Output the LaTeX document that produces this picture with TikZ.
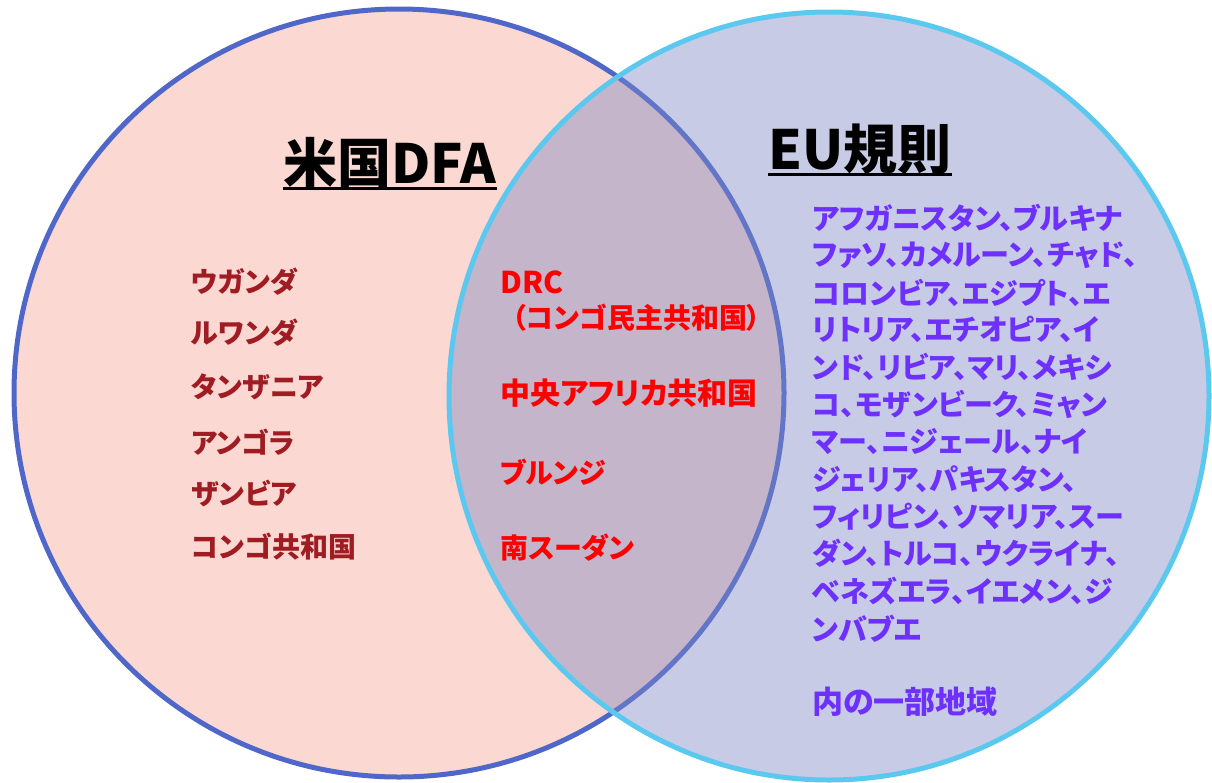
\documentclass[tikz,border=0pt]{standalone}
\usepackage{fontspec}
\setmainfont{Noto Sans CJK JP}[RawFeature=+palt]
\definecolor{usaline}{RGB}{78,103,200}
\definecolor{usafill}{RGB}{251,216,210}
\definecolor{euline}{RGB}{91,200,240}
\definecolor{eufill}{RGB}{128,137,196}
\definecolor{darkred}{RGB}{158,28,34}
\definecolor{brightred}{RGB}{255,0,0}
\definecolor{eupurple}{RGB}{110,48,252}
\begin{document}
\begin{tikzpicture}[x=1pt,y=-1pt,
  titletext/.style={anchor=west,inner sep=0pt,font=\fontsize{54}{60}\selectfont\bfseries,text=black},
  usalist/.style={anchor=west,inner sep=0pt,font=\fontsize{28}{32}\selectfont\bfseries,text=darkred},
  bothlist/.style={anchor=west,inner sep=0pt,font=\fontsize{28}{32}\selectfont\bfseries,text=brightred},
  eulist/.style={anchor=west,inner sep=0pt,font=\fontsize{29}{32}\selectfont\bfseries,text=eupurple},
  uline/.style={line width=3pt,black}]
\useasboundingbox (0,0) rectangle (1212,782);
% circles
\path[draw=usaline,fill=usafill,line width=5pt] (399,393) ellipse [x radius=385pt, y radius=384pt];
\path[draw=euline,fill=eufill,fill opacity=0.44,draw opacity=1,line width=5pt] (829,396) ellipse [x radius=380pt, y radius=384pt];
% titles
\node[titletext] (usaT) at (283,163) {米国DFA};
\draw[uline] ([yshift=-5pt]usaT.base west) -- ([yshift=-5pt]usaT.base east);
\node[titletext] (euT) at (768,149) {EU規則};
\draw[uline] ([yshift=-5pt]euT.base west) -- ([yshift=-5pt]euT.base east);
% US only
\node[usalist] (u1) at (191,282) {ウガンダ};
\node[usalist] (u2) at (191,333) {ルワンダ};
\node[usalist] (u3) at (191,387) {タンザニア};
\node[usalist] (u4) at (191,442) {アンゴラ};
\node[usalist] (u5) at (191,493) {ザンビア};
\node[usalist] (u6) at (191,547) {コンゴ共和国};
% both
\node[bothlist,font=\fontsize{30}{32}\selectfont\bfseries] (b1) at (500,282) {DRC};
\node[bothlist] (b2) at (512,318) {（コンゴ民主共和国）};
\node[bothlist,font=\fontsize{30}{32}\selectfont\bfseries] (b3) at (500,393) {中央アフリカ共和国};
\node[bothlist] (b4) at (500,472) {ブルンジ};
\node[bothlist] (b5) at (500,548) {南スーダン};
% EU list
\foreach \t [count=\i] in {アフガニスタン、ブルキナ,ファソ、カメルーン、チャド、,コロンビア、エジプト、エ,リトリア、エチオピア、イ,ンド、リビア、マリ、メキシ,コ、モザンビーク、ミャン,マー、ニジェール、ナイ,ジェリア、パキスタン、,フィリピン、ソマリア、スー,ダン、トルコ、ウクライナ、,ベネズエラ、イエメン、ジ,ンバブエ}
  \node[eulist] (e\i) at (812,{218+(\i-1)*37.3}) {\t};
\node[eulist,font=\fontsize{31}{32}\selectfont\bfseries] (e13) at (812,702) {内の一部地域};
\end{tikzpicture}
\end{document}
